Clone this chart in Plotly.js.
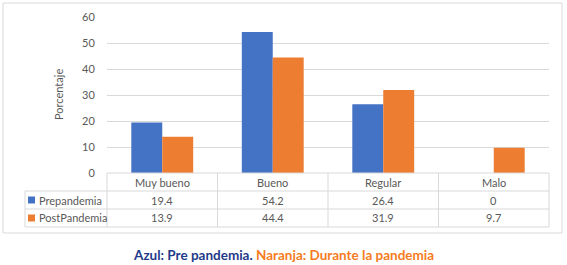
<!DOCTYPE html>
<html>
<head>
<meta charset="utf-8">
<script src="https://cdn.plot.ly/plotly-3.0.1.min.js"></script>
<style>html,body{margin:0;padding:0;background:#fff;}#chart{width:567px;height:265px;}</style>
</head>
<body>
<div id="chart"></div>
<script>
const categories = ["Muy bueno", "Bueno", "Regular", "Malo"];
const seriesNames = ["Prepandemia", "PostPandemia"];
const prepandemia = [19.4, 54.2, 26.4, 0];
const postpandemia = [13.9, 44.4, 31.9, 9.7];
const yTicks = [0, 10, 20, 30, 40, 50, 60];
const yTitle = "Porcentaje";
const captionBlue = "Azul: Pre pandemia.";
const captionOrange = "Naranja: Durante la pandemia";

const W = 567, H = 265;
const L = 107, R = 549, T = 17, B = 173;
const colors = ["#4472C4", "#ED7D31"];
const grid = "#D9D9D9";
const txt = "#595959";
const font = "Lato, 'Open Sans', sans-serif";

const px = x => (x - L) / (R - L);
const py = y => (B - y) / (B - T);

const traces = [
  {type: "bar", x: categories, y: prepandemia, name: seriesNames[0], marker: {color: colors[0]}, hoverinfo: "none"},
  {type: "bar", x: categories, y: postpandemia, name: seriesNames[1], marker: {color: colors[1]}, hoverinfo: "none"}
];

const shapes = [];
const line = (x0, y0, x1, y1, c) => shapes.push({type: "line", xref: "paper", yref: "paper", x0: px(x0), y0: py(y0), x1: px(x1), y1: py(y1), line: {color: c || grid, width: 1}});
// outer border
shapes.push({type: "rect", xref: "paper", yref: "paper", x0: px(3), y0: py(3), x1: px(562), y1: py(233), line: {color: grid, width: 1}, fillcolor: "rgba(0,0,0,0)", layer: "below"});
// table lines
const rowY = [173, 191, 209, 227];
line(L, rowY[0], R, rowY[0]);
for (let i = 1; i < rowY.length; i++) line(25, rowY[i], R, rowY[i]);
line(25, rowY[1], 25, rowY[3]);
const colX = [107, 217.5, 328, 438.5, 549];
colX.forEach(x => line(x, rowY[0], x, rowY[3]));

const annotations = [];
const rowCenters = [182, 200, 218];
const tf = {family: font, size: 11, color: txt};
const ann = (o) => annotations.push(Object.assign({showarrow: false, xanchor: "center", yanchor: "middle", font: tf}, o));
categories.forEach((c, i) => {
  ann({xref: "x", yref: "paper", x: c, y: py(rowCenters[0]), text: c});
  ann({xref: "x", yref: "paper", x: c, y: py(rowCenters[1]), text: String(prepandemia[i])});
  ann({xref: "x", yref: "paper", x: c, y: py(rowCenters[2]), text: String(postpandemia[i])});
});
seriesNames.forEach((n, i) => {
  const cy = rowCenters[i + 1];
  shapes.push({type: "rect", xref: "paper", yref: "paper", x0: px(28), x1: px(35), y0: py(cy - 3.5), y1: py(cy + 3.5), fillcolor: colors[i], line: {width: 0}});
  ann({xref: "paper", yref: "paper", x: px(37), y: py(cy), xanchor: "left", text: n});
});
ann({xref: "paper", yref: "paper", x: px(58), y: py(95), text: yTitle, textangle: -90});
ann({xref: "paper", yref: "paper", x: px(283), y: py(255), text: "<b><span style='color:#1F3A8A'>" + captionBlue + "</span> <span style='color:#F57C22'>" + captionOrange + "</span></b>", font: {family: font, size: 13.5}});

const layout = {
  width: W, height: H,
  margin: {l: L, r: W - R, t: T, b: H - B, pad: 0},
  paper_bgcolor: "#fff", plot_bgcolor: "#fff",
  showlegend: false,
  barmode: "group", bargap: 0.44, bargroupgap: 0,
  xaxis: {showticklabels: false, showgrid: false, zeroline: false, showline: false, ticks: ""},
  yaxis: {range: [0, 60], tickvals: yTicks, ticktext: yTicks.map(String), showgrid: true, gridcolor: grid, gridwidth: 1, zeroline: false, showline: false, ticks: "outside", ticklen: 9, tickcolor: "rgba(0,0,0,0)", tickfont: {family: font, size: 11, color: txt}},
  shapes, annotations
};
Plotly.newPlot("chart", traces, layout, {staticPlot: true, displayModeBar: false});
</script>
</body>
</html>
